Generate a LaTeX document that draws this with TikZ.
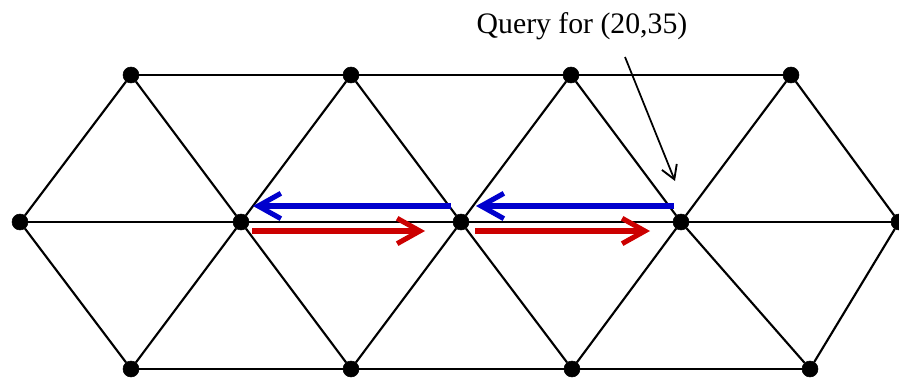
\documentclass[tikz,border=0pt]{standalone}
\usepackage{fontspec}
\setmainfont{Liberation Serif}
\usepackage{tikz}
\usetikzlibrary{arrows.meta,calc}
\tikzset{
  dot/.style={draw, circle, fill=black, inner sep=0pt, minimum size=12pt},
  edge/.style={line width=1.6pt},
  bluearr/.style={-{Straight Barb[length=17pt, width=19pt, line width=3.8pt]}, line width=4pt, draw={rgb,255:red,0;green,0;blue,205}},
  redarr/.style={-{Straight Barb[length=17pt, width=19pt, line width=3.8pt]}, line width=4pt, draw={rgb,255:red,204;green,0;blue,0}},
  qarr/.style={-{Straight Barb[length=10pt, width=12pt, line width=1.4pt]}, line width=1.3pt},
  label/.style={font=\fontsize{22.3}{26}\selectfont, inner sep=0pt}
}

\begin{document}
\begin{tikzpicture}[x=0.75pt, y=-0.75pt]
\useasboundingbox (0,0) rectangle (899,378);

\node[dot] (t1) at (131,75) {};
\node[dot] (t2) at (351,75) {};
\node[dot] (t3) at (571,75) {};
\node[dot] (t4) at (791,75) {};
\node[dot] (m0) at (20,222) {};
\node[dot] (m1) at (241,222) {};
\node[dot] (m2) at (461,222) {};
\node[dot] (m3) at (681,222) {};
\node[dot] (m4) at (899,222) {};
\node[dot] (b1) at (131,369) {};
\node[dot] (b2) at (351,369) {};
\node[dot] (b3) at (572,369) {};
\node[dot] (b4) at (810,369) {};

\node[label] (query) at (582,26) {Query for (20,35)};
\coordinate (qstart) at (625,57);
\coordinate (qtip) at (675,181);

\draw[edge] (t1) -- (t2) -- (t3) -- (t4);
\draw[edge] (m0) -- (m1) -- (m2) -- (m3) -- (m4);
\draw[edge] (b1) -- (b2) -- (b3) -- (b4);
\draw[edge] (m0) -- (t1) -- (m1) -- (t2) -- (m2) -- (t3) -- (m3) -- (t4) -- (m4);
\draw[edge] (m0) -- (b1) -- (m1) -- (b2) -- (m2) -- (b3) -- (m3) -- (b4) -- (m4);

\draw[bluearr] ($(m3)+(-7,-16)$) -- ($(m2)+(15,-16)$);
\draw[bluearr] ($(m2)+(-10,-16)$) -- ($(m1)+(12,-16)$);
\draw[redarr] ($(m1)+(11,9)$) -- ($(m2)+(-36,9)$);
\draw[redarr] ($(m2)+(14,9)$) -- ($(m3)+(-31,9)$);
\draw[qarr] (qstart) -- (qtip);
\end{tikzpicture}
\end{document}
